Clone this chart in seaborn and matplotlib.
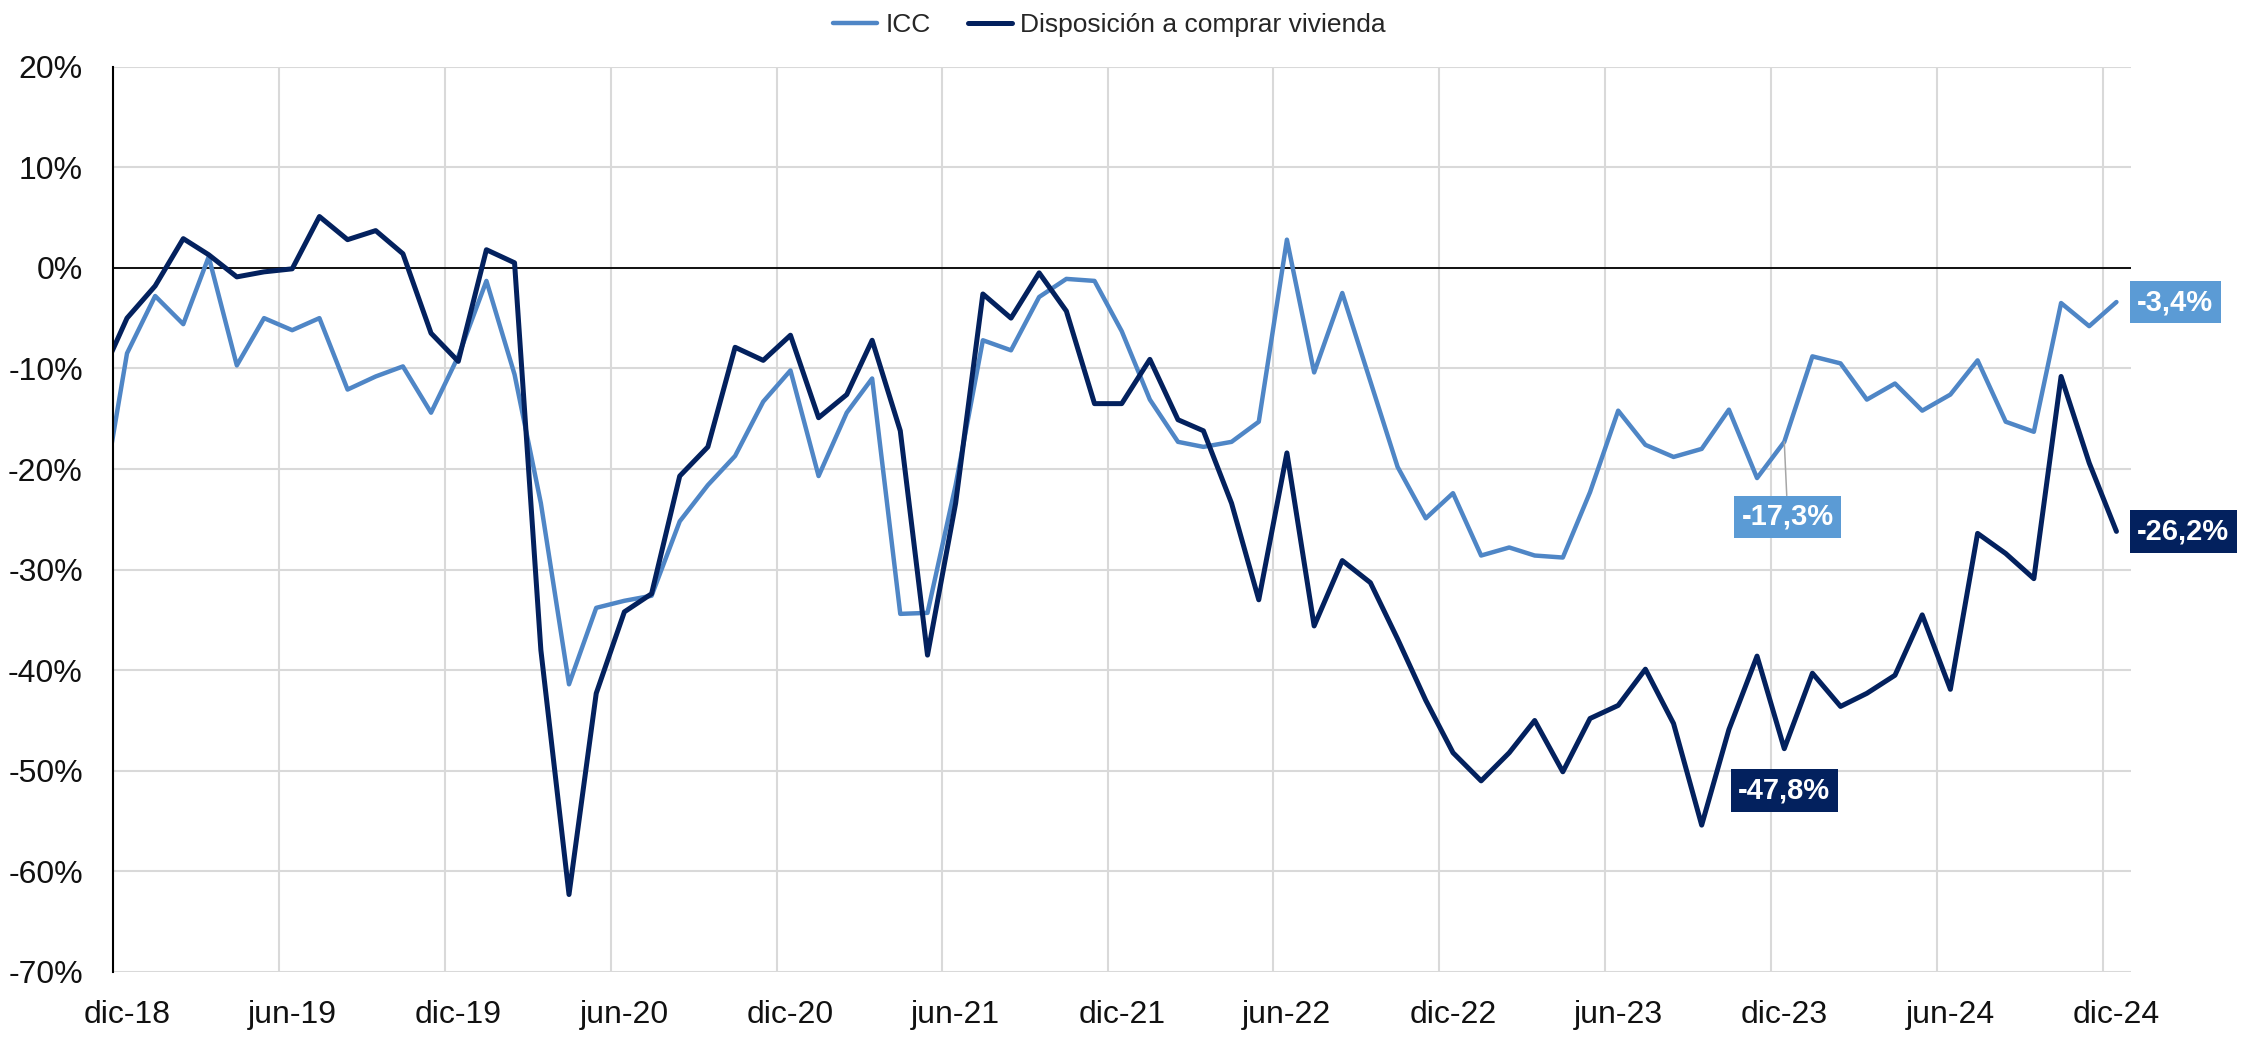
import pandas as pd
import seaborn as sns
import matplotlib.pyplot as plt
from matplotlib.ticker import FuncFormatter

# monthly values, nov-18 .. dic-24 (points sit mid-month)
meses = pd.date_range("2018-11-01", "2024-12-01", freq="MS") + pd.Timedelta(days=15)

icc = [
    -24.5, -8.5,
    -2.8, -5.6, 1.1, -9.7, -5.0, -6.2, -5.0, -12.1, -10.8, -9.8, -14.4, -8.8,
    -1.3, -10.6, -23.4, -41.4, -33.8, -33.1, -32.6, -25.2, -21.6, -18.7, -13.3, -10.2,
    -20.7, -14.4, -11.0, -34.4, -34.3, -21.6, -7.2, -8.2, -2.9, -1.1, -1.3, -6.3,
    -13.1, -17.3, -17.8, -17.3, -15.3, 2.8, -10.4, -2.5, -11.3, -19.8, -24.9, -22.4,
    -28.6, -27.8, -28.6, -28.8, -22.3, -14.2, -17.6, -18.8, -18.0, -14.1, -20.9, -17.3,
    -8.8, -9.5, -13.1, -11.5, -14.2, -12.6, -9.2, -15.3, -16.3, -3.5, -5.8, -3.4,
]

vivienda = [
    -11.0, -5.0,
    -1.8, 2.9, 1.3, -0.9, -0.4, -0.1, 5.1, 2.8, 3.7, 1.4, -6.5, -9.3,
    1.8, 0.5, -38.0, -62.3, -42.3, -34.2, -32.4, -20.7, -17.8, -7.9, -9.2, -6.7,
    -14.9, -12.6, -7.2, -16.2, -38.5, -23.4, -2.6, -5.0, -0.5, -4.3, -13.5, -13.5,
    -9.1, -15.1, -16.2, -23.4, -33.0, -18.4, -35.6, -29.1, -31.3, -36.9, -43.0, -48.2,
    -51.0, -48.2, -45.0, -50.1, -44.8, -43.5, -39.9, -45.3, -55.4, -45.9, -38.6, -47.8,
    -40.3, -43.6, -42.3, -40.5, -34.5, -41.9, -26.4, -28.4, -30.9, -10.8, -19.4, -26.2,
]

series_names = ["ICC", "Disposición a comprar vivienda"]
tick_labels = ["dic-18", "jun-19", "dic-19", "jun-20", "dic-20", "jun-21", "dic-21",
               "jun-22", "dic-22", "jun-23", "dic-23", "jun-24", "dic-24"]
y_ticks = [20, 10, 0, -10, -20, -30, -40, -50, -60, -70]

c_icc = "#4f86c6"
c_viv = "#03215e"
c_icc_box = "#5b9bd5"

df = pd.DataFrame({"fecha": meses, "ICC": icc, "Vivienda": vivienda})

sns.set_style("white")
plt.rcParams["font.family"] = ["Liberation Sans Narrow", "Liberation Sans", "DejaVu Sans"]

fig = plt.figure(figsize=(22.41, 10.38), dpi=100)
ax = fig.add_axes([0.0506, 0.0636, 0.9003, 0.8722])

sns.lineplot(data=df, x="fecha", y="ICC", color=c_icc, linewidth=3.2,
             label=series_names[0], ax=ax, zorder=3,
             solid_joinstyle="round", solid_capstyle="round")
sns.lineplot(data=df, x="fecha", y="Vivienda", color=c_viv, linewidth=3.6,
             label=series_names[1], ax=ax, zorder=4,
             solid_joinstyle="round", solid_capstyle="round")

# axes
grid_dates = pd.date_range("2018-12-01", "2024-12-01", freq="6MS")
ax.set_xlim(pd.Timestamp("2018-12-01"), pd.Timestamp("2025-01-01"))
ax.set_ylim(-70, 20)
ax.set_xticks(grid_dates, labels=[""] * len(grid_dates))
ax.set_xticks(grid_dates + pd.Timedelta(days=15), labels=tick_labels, minor=True)
ax.set_yticks(y_ticks)
ax.yaxis.set_major_formatter(FuncFormatter(lambda v, p: f"{v:.0f}%"))
ax.tick_params(axis="both", which="both", length=0, labelsize=23, labelcolor="#111111")
ax.tick_params(axis="y", pad=22)
ax.tick_params(axis="x", which="minor", pad=20)
ax.grid(True, which="major", color="#d9d9d9", linewidth=1.5)
ax.set_axisbelow(True)
ax.axhline(0, color="black", linewidth=1.3, zorder=2)
ax.set_xlabel("")
ax.set_ylabel("")
for s in ["top", "right", "bottom"]:
    ax.spines[s].set_visible(False)
ax.spines["left"].set_color("black")
ax.spines["left"].set_linewidth(1.5)
ax.spines["left"].set_zorder(5)

# legend on top
handles, labels = ax.get_legend_handles_labels()
ax.get_legend().remove()
fig.legend(handles, labels, loc="upper center", bbox_to_anchor=(0.495, 1.01), ncol=2,
           frameon=False, prop={"family": ["Liberation Sans", "DejaVu Sans"], "size": 19},
           handlelength=1.7, handletextpad=0.3, columnspacing=1.4)


def fmt(v):
    return f"{v:.1f}".replace(".", ",") + "%"


lab_font = {"family": ["Liberation Sans", "DejaVu Sans"], "size": 21, "weight": "bold"}

# end labels
for vals, fc in [(icc, c_icc_box), (vivienda, c_viv)]:
    ax.annotate(fmt(vals[-1]), xy=(meses[-1], vals[-1]), xytext=(15, 0),
                textcoords="offset points", ha="left", va="center", color="white",
                annotation_clip=False,
                bbox=dict(boxstyle="square,pad=0.25", fc=fc, ec="none"), **lab_font)

# dic-23 labels
k = list(meses).index(pd.Timestamp("2023-12-16"))
ax.annotate(fmt(icc[k]), xy=(meses[k], icc[k]), xytext=(2.5, -54),
            textcoords="offset points", ha="center", va="center", color="white",
            bbox=dict(boxstyle="square,pad=0.25", fc=c_icc_box, ec="none"),
            arrowprops=dict(arrowstyle="-", color="#a6a6a6", lw=1.1, shrinkA=0, shrinkB=0),
            **lab_font)
ax.annotate(fmt(vivienda[k]), xy=(meses[k], vivienda[k]), xytext=(0, -30),
            textcoords="offset points", ha="center", va="center", color="white",
            bbox=dict(boxstyle="square,pad=0.25", fc=c_viv, ec="none"), zorder=6,
            **lab_font)

plt.savefig("out.png", dpi=100)
plt.close()
